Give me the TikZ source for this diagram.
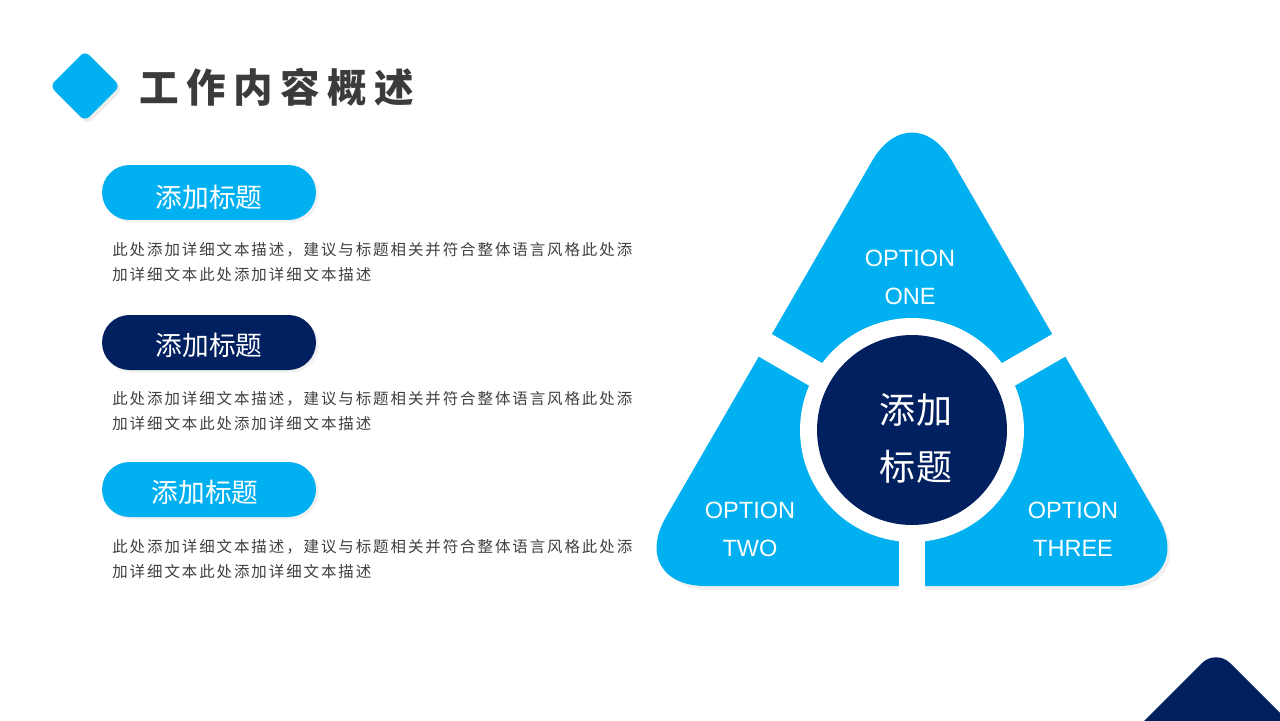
\documentclass[tikz,border=0pt]{standalone}
\usepackage{fontspec}
\setmainfont{Liberation Sans}
\newfontfamily\cjk{Noto Sans CJK SC}
\newfontfamily\cjkbody[LetterSpace=12.5]{Noto Sans CJK SC}
\newfontfamily\cjktitle[LetterSpace=19]{Noto Sans CJK SC}
\usetikzlibrary{shadows}
\definecolor{optblue}{HTML}{00B0F0}
\definecolor{optnavy}{HTML}{002060}
\definecolor{titlegray}{HTML}{3B3B3B}
\definecolor{bodygray}{HTML}{404040}
\newcommand{\pilltext}[2][-2pt]{\raisebox{#1}[\height][\depth]{#2}}

\begin{document}
\begin{tikzpicture}[x=0.02cm, y=-0.02cm,
        pill/.style={rectangle, rounded corners=0.55cm, minimum width=4.28cm, minimum height=1.1cm,
          text=white, font=\cjk\fontsize{15.2}{18}\selectfont,
          drop shadow={opacity=0.1, shadow xshift=1.5pt, shadow yshift=-1.5pt}},
        body/.style={anchor=west, align=left, inner sep=0pt, text=bodygray,
          font=\cjkbody\fontsize{8.8}{14.2}\selectfont},
        option/.style={align=center, text=white, font=\fontsize{13.4}{21.6}\selectfont},
        gap/.style={white, line width=0.52cm}]
        \useasboundingbox (0,0) rectangle (1280,720);
        \fill[white] (0,0) rectangle (1280,720);
        \fill[optblue, rounded corners=0.12cm, rotate around={45:(85,86)},
          drop shadow={opacity=0.15, shadow xshift=1.5pt, shadow yshift=-2pt}] (60.25,61.25) rectangle (109.75,110.75);
        \node[anchor=west, text=titlegray, font=\cjktitle\bfseries\fontsize{22.5}{26}\selectfont] (title) at (133,87) {工作内容概述};
        \node[pill, fill=optblue] (head1) at (209,192.5) {\pilltext[-2.7pt]{添加标题}};
        \node[pill, fill=optnavy] (head2) at (209,342.5) {\pilltext[-1.7pt]{添加标题}};
        \node[pill, fill=optblue] (head3) at (209,489.5) {\hspace{-4.5pt}\pilltext[-1.7pt]{添加标题}};
        \node[body] (text1) at (112,262.5) {此处添加详细文本描述，建议与标题相关并符合整体语言风格此处添\\加详细文本此处添加详细文本描述};
        \node[body] (text2) at (112,411) {此处添加详细文本描述，建议与标题相关并符合整体语言风格此处添\\加详细文本此处添加详细文本描述};
        \node[body] (text3) at (112,559) {此处添加详细文本描述，建议与标题相关并符合整体语言风格此处添\\加详细文本此处添加详细文本描述};
        \coordinate (O) at (912,430);
        \coordinate (gapdown) at (912,600);
        \coordinate (gapleft) at (652,280);
        \coordinate (gapright) at (1172,280);
        \fill[black, opacity=0.06, rounded corners=1.6cm] (915,96) -- (1201,590) -- (631,590) -- cycle;
        \fill[optblue, rounded corners=1.6cm] (912,92) -- (1198,586) -- (626,586) -- cycle;
        \draw[gap] (O) -- (gapdown);
        \draw[gap] (O) -- (gapleft);
        \draw[gap] (O) -- (gapright);
        \fill[white] (O) circle[radius=2.24cm];
        \node[circle, fill=optnavy, minimum size=3.8cm] (core) at (O) {};
        \node[align=center, text=white, font=\cjk\fontsize{20.5}{32.4}\selectfont] (coretext) at (916,438.5) {添加\\标题};
        \node[option] (opt1) at (910,277) {OPTION\\ONE};
        \node[option] (opt2) at (750,529) {OPTION\\TWO};
        \node[option] (opt3) at (1073,529) {OPTION\\THREE};
        \begin{scope}
          \clip (0,0) rectangle (1280,720);
          \fill[optnavy, rounded corners=0.4cm] (1216,649) -- (1316,749) -- (1216,849) -- (1116,749) -- cycle;
        \end{scope}
      \end{tikzpicture}
\end{document}
